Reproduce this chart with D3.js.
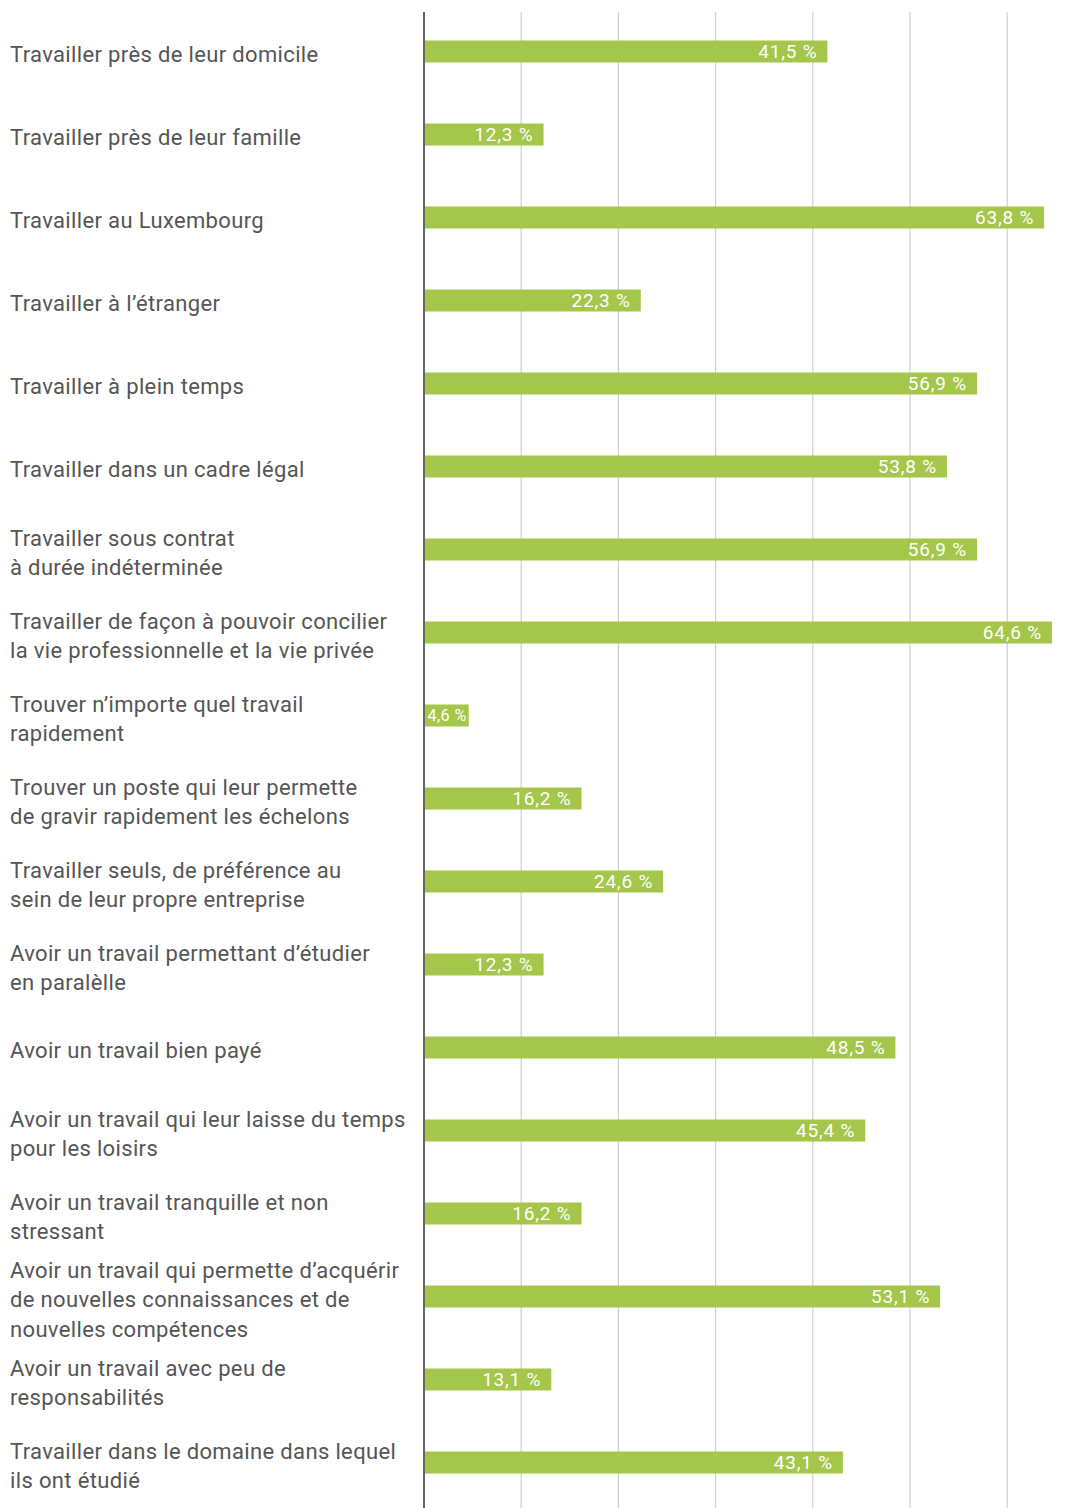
<!DOCTYPE html>
<html lang="fr">
<head>
<meta charset="utf-8">
<title>Attentes professionnelles</title>
<script src="https://cdn.jsdelivr.net/npm/d3@7"></script>
<style>
  html, body { margin: 0; padding: 0; background: #ffffff; }
  svg { display: block; }
  .cat-label { font-family: Roboto, "Noto Sans", sans-serif; font-size: 22px; fill: #555555; letter-spacing: 0.35px; }
  .val-label { font-family: Roboto, "Noto Sans", sans-serif; font-size: 19px; fill: #ffffff; letter-spacing: 0.8px; }
</style>
</head>
<body>
<svg id="chart" width="1084" height="1508"></svg>
<script>
// Categories (line breaks marked with "\n")
const categories = [
  "Travailler près de leur domicile",
  "Travailler près de leur famille",
  "Travailler au Luxembourg",
  "Travailler à l’étranger",
  "Travailler à plein temps",
  "Travailler dans un cadre légal",
  "Travailler sous contrat\nà durée indéterminée",
  "Travailler de façon à pouvoir concilier\nla vie professionnelle et la vie privée",
  "Trouver n’importe quel travail\nrapidement",
  "Trouver un poste qui leur permette\nde gravir rapidement les échelons",
  "Travailler seuls, de préférence au\nsein de leur propre entreprise",
  "Avoir un travail permettant d’étudier\nen paralèlle",
  "Avoir un travail bien payé",
  "Avoir un travail qui leur laisse du temps\npour les loisirs",
  "Avoir un travail tranquille et non\nstressant",
  "Avoir un travail qui permette d’acquérir\nde nouvelles connaissances et de\nnouvelles compétences",
  "Avoir un travail avec peu de\nresponsabilités",
  "Travailler dans le domaine dans lequel\nils ont étudié"
];

// Share of respondents (%)
const values = [41.5, 12.3, 63.8, 22.3, 56.9, 53.8, 56.9, 64.6, 4.6, 16.2, 24.6, 12.3, 48.5, 45.4, 16.2, 53.1, 13.1, 43.1];

// Vertical gridlines
const gridTicks = [10, 20, 30, 40, 50, 60];

const width = 1084, height = 1508;
const plotTop = 12;
const barColor = "#a4c64a";

const svg = d3.select("#chart");

const x = d3.scaleLinear().domain([0, 67]).range([424, 424 + 67 * 9.72]);
const y = d3.scaleBand()
  .domain(d3.range(categories.length))
  .range([10, 1504])
  .paddingInner(0.735)
  .paddingOuter(0.3675);

const fmt = v => d3.format(".1f")(v).replace(".", ",") + " %";

// Gridlines
svg.append("g")
  .selectAll("line")
  .data(gridTicks)
  .join("line")
  .attr("x1", d => x(d)).attr("x2", d => x(d))
  .attr("y1", plotTop).attr("y2", height)
  .attr("stroke", "#cfcfcf")
  .attr("stroke-width", 1.2);

// Bars
const rows = svg.append("g")
  .selectAll("g")
  .data(values)
  .join("g");

rows.append("rect")
  .attr("x", x(0))
  .attr("y", (d, i) => y(i))
  .attr("width", d => x(d) - x(0))
  .attr("height", y.bandwidth())
  .attr("fill", barColor);

// Value labels, right-aligned inside each bar; shrunk to fit very short bars
rows.append("text")
  .attr("class", "val-label")
  .attr("x", d => x(d) - 10)
  .attr("y", (d, i) => y(i) + y.bandwidth() / 2)
  .attr("dy", "0.36em")
  .attr("text-anchor", "end")
  .text(d => fmt(d))
  .each(function(d) {
    const barW = x(d) - x(0);
    const w = this.getComputedTextLength();
    if (w + 14 > barW) {
      const fs = 19 * (barW - 4) / w;
      d3.select(this)
        .style("font-size", fs + "px")
        .style("letter-spacing", "0.4px")
        .attr("x", x(d) - 2);
    }
  });

// Category labels, vertically centred on each bar
const lineH = 29.5;
const labels = svg.append("g")
  .selectAll("text")
  .data(categories)
  .join("text")
  .attr("class", "cat-label")
  .attr("x", 10)
  .attr("y", (d, i) => y(i) + y.bandwidth() / 2 + 3);

labels.each(function(d) {
  const lines = d.split("\n");
  const t = d3.select(this);
  const y0 = +t.attr("y");
  lines.forEach((ln, k) => {
    t.append("tspan")
      .attr("x", 10)
      .attr("y", y0 + (k - (lines.length - 1) / 2) * lineH)
      .attr("dy", "0.36em")
      .text(ln);
  });
});

// Baseline axis
svg.append("line")
  .attr("x1", x(0)).attr("x2", x(0))
  .attr("y1", plotTop).attr("y2", height)
  .attr("stroke", "#666666")
  .attr("stroke-width", 2);
</script>
</body>
</html>
